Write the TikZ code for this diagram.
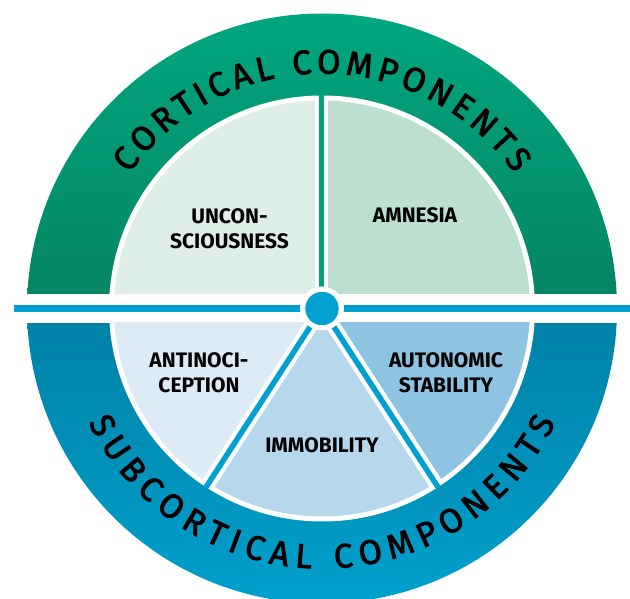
\documentclass[tikz,border=0pt]{standalone}
\usepackage{fontspec}
\setmainfont{Fira Sans}
\usetikzlibrary{decorations.text}
\definecolor{zelTop}{RGB}{0,168,129}
\definecolor{zelBot}{RGB}{5,133,99}
\definecolor{sinTop}{RGB}{0,130,167}
\definecolor{sinBot}{RGB}{0,161,206}
\definecolor{uncFill}{RGB}{223,238,231}
\definecolor{amnFill}{RGB}{188,223,207}
\definecolor{antFill}{RGB}{220,235,246}
\definecolor{immFill}{RGB}{183,216,236}
\definecolor{autFill}{RGB}{142,195,226}
\definecolor{zelLine}{RGB}{0,163,124}
\definecolor{sinLine}{RGB}{0,160,208}
\newcommand\dugfont{\special{pdf:literal direct 2 Tr 0.8 w 0 0 0 RG}\fontsize{34}{34}\selectfont}
\newcommand\lblfont{\special{pdf:literal direct 0 Tr}\fontsize{21}{25.5}\selectfont\bfseries}

\begin{document}
\begin{tikzpicture}[x=1pt,y=1pt,
  lbl/.style={font=\lblfont,align=center,text=black},
  arctxt/.style={decorate,decoration={text along path,text align=fit to path,text={|\dugfont|#1}}}]
\useasboundingbox (-322,-290.5) rectangle (308,308.5);
\coordinate (O) at (0,0);
%Верхнее полукольцо
\shade[top color=zelTop,bottom color=zelBot] (2.82:295) arc[start angle=2.82,end angle=177.18,radius=295] -- cycle;
\fill[white] (3.9:213) arc[start angle=3.9,end angle=176.1,radius=213] -- cycle;
\fill[uncFill] (0,14.5) -- (176:208) arc[start angle=176,end angle=90,radius=208] -- cycle;
\fill[amnFill] (0,14.5) -- (90:208) arc[start angle=90,end angle=4,radius=208] -- cycle;
\draw[white,line width=13] (O) -- (90:209);
\draw[zelLine,line width=5] (O) -- (90:214);
%Нижнее полукольцо
\shade[top color=sinTop,bottom color=sinBot] (-2.82:295) arc[start angle=-2.82,end angle=-177.18,radius=295] -- cycle;
\fill[white] (-3.9:213) arc[start angle=-3.9,end angle=-176.1,radius=213] -- cycle;
\begin{scope}
\clip (-300,-14.5) rectangle (300,-300);
\fill[antFill] (O) -- (180:208) arc[start angle=180,end angle=237,radius=208] -- cycle;
\fill[immFill] (O) -- (237:208) arc[start angle=237,end angle=303,radius=208] -- cycle;
\fill[autFill] (O) -- (303:208) arc[start angle=303,end angle=360,radius=208] -- cycle;
\end{scope}
\foreach \a in {237,303}{
  \draw[white,line width=14] (O) -- (\a:209);
  \draw[sinLine,line width=5.5] (O) -- (\a:214);
}
%Горизонтальная линия и центр
\draw[sinLine,line width=6.5] (-308,0) -- (308,0);
\fill[white] (O) circle (22);
\fill[sinLine] (O) circle (16.7);
%Надписи по дуге
\path[arctxt=CORTICAL COMPONENTS] (145:235) arc[start angle=145,end angle=35,radius=235];
\path[arctxt=SUBCORTICAL COMPONENTS] (206:260) arc[start angle=206,end angle=334,radius=260];
%Подписи секторов
\node[lbl] (uncon) at (-92.5,80) {UNCON-\\SCIOUSNESS};
\node[lbl] (amnes) at (93,93) {AMNESIA};
\node[lbl] (antin) at (-123,-64) {ANTINOCI-\\CEPTION};
\node[lbl] (auton) at (124,-64) {AUTONOMIC\\STABILITY};
\node[lbl] (immob) at (0,-137) {IMMOBILITY};
\end{tikzpicture}
\end{document}
